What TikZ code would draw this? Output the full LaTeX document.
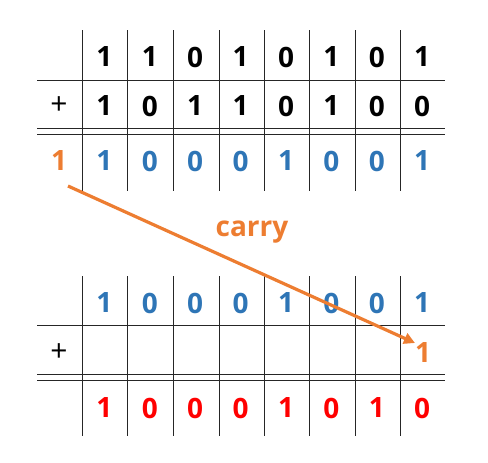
\documentclass[tikz,border=0pt]{standalone}
\usepackage{fontspec}
\setmainfont{Open Sans}
\usetikzlibrary{arrows.meta,calc}
\definecolor{corange}{HTML}{ED7D31}
\definecolor{cblue}{HTML}{2E75B6}
\definecolor{cred}{HTML}{FF0000}
\begin{document}
\begin{tikzpicture}[x=1pt,y=-1pt,
  dig/.style={inner sep=0pt,font=\fontsize{28}{28}\selectfont\bfseries},
  plussign/.style={inner sep=0pt,font=\fontsize{30}{30}\selectfont},
  grid/.style={line width=0.9pt,black!85},
  carryarrow/.style={corange,line width=3.2pt,-{Triangle[length=11pt,width=11pt]}}]
\useasboundingbox (0,0) rectangle (488,463);
% ---------- top table ----------
\foreach \x in {82,127,173,219,264,309,355,400}
  \draw[grid] (\x,30) -- (\x,191);
\draw[grid] (37,80) -- (445,80);
\draw[grid] (37,128) -- (445,128);
\draw[grid] (37,134) -- (445,134);
\foreach \d [count=\i] in {1,1,0,1,0,1,0,1}
  \node[dig] (ta\i) at ({59+45.4*\i},57) {\d};
\node[plussign] (tp) at (59,106) {+};
\foreach \d [count=\i] in {1,0,1,1,0,1,0,0}
  \node[dig] (tb\i) at ({59+45.4*\i},106) {\d};
\node[dig,text=corange] (c0) at (59,161) {1};
\foreach \d [count=\i] in {1,0,0,0,1,0,0,1}
  \node[dig,text=cblue] (tc\i) at ({59+45.4*\i},161) {\d};
% ---------- bottom table ----------
\foreach \x in {82,127,173,219,264,309,355,400}
  \draw[grid] (\x,276) -- (\x,436);
\draw[grid] (37,325) -- (445,325);
\draw[grid] (37,374) -- (445,374);
\draw[grid] (37,380) -- (445,380);
\foreach \d [count=\i] in {1,0,0,0,1,0,0,1}
  \node[dig,text=cblue] (ba\i) at ({59+45.4*\i},303) {\d};
\node[plussign] (bp) at (59,353) {+};
\node[dig,text=corange] (k) at (423,353) {1};
\foreach \d [count=\i] in {1,0,0,0,1,0,1,0}
  \node[dig,text=cred] (bc\i) at ({59+45.4*\i},408) {\d};
% ---------- carry arrow ----------
\draw[carryarrow] ($(c0)+(9,25)$) -- ($(k)+(-8,-10)$);
\node[dig,text=corange] (carry) at (252,232) {carry};
\end{tikzpicture}
\end{document}
